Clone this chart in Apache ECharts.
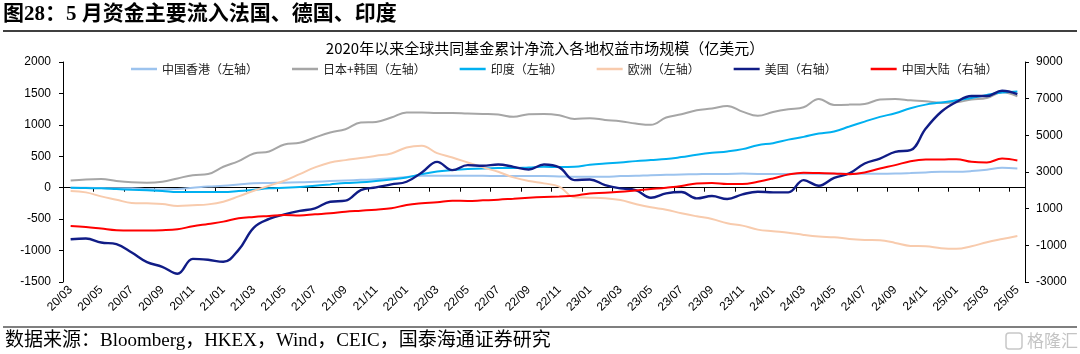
<!DOCTYPE html>
<html>
<head>
<meta charset="utf-8">
<script src="https://cdn.jsdelivr.net/npm/echarts@6/dist/echarts.min.js"></script>
<style>
html,body{margin:0;padding:0;background:#fff;}
#c{width:1080px;height:354px;}
</style>
</head>
<body>
<div id="c"></div>
<script>
const categories = ['20/03','20/04','20/05','20/06','20/07','20/08','20/09','20/10','20/11','20/12',
'21/01','21/02','21/03','21/04','21/05','21/06','21/07','21/08','21/09','21/10','21/11','21/12',
'22/01','22/02','22/03','22/04','22/05','22/06','22/07','22/08','22/09','22/10','22/11','22/12',
'23/01','23/02','23/03','23/04','23/05','23/06','23/07','23/08','23/09','23/10','23/11','23/12',
'24/01','24/02','24/03','24/04','24/05','24/06','24/07','24/08','24/09','24/10','24/11','24/12',
'25/01','25/02','25/03','25/04','25/05'];

const seriesNames = ['中国香港（左轴）','日本+韩国（左轴）','印度（左轴）','欧洲（左轴）','美国（右轴）','中国大陆（右轴）'];

const hongKong = [0,0,-5,-10,-10,-20,-30,-20,0,20,30,50,70,75,80,85,
 95,105,115,125,135,150,170,190,190,190,190,190,185,185,185,185,
 180,175,175,175,185,190,200,205,210,215,220,220,225,220,220,220,
 222,222,222,222,222,222,225,233,243,254,254,264,286,317,307];

const japanKorea = [116,132,138,106,85,79,95,148,200,217,333,423,545,577,688,714,
 800,878,931,1037,1047,1116,1196,1196,1190,1190,1180,1174,1164,1127,1169,1174,
 1153,1095,1106,1079,1058,1021,1000,1116,1169,1233,1259,1301,1211,1143,1206,1250,
 1280,1412,1317,1322,1333,1402,1412,1391,1375,1349,1359,1402,1428,1518,1455];

const india = [0,-5,-10,-21,-32,-42,-53,-69,-69,-69,-69,-53,-32,-10,0,10,
 32,53,74,85,106,132,164,217,259,280,296,307,312,312,323,333,
 328,333,365,386,402,423,439,455,487,524,555,577,614,677,709,765,
 809,862,894,973,1052,1127,1185,1264,1322,1354,1391,1428,1476,1513,1529];

const europe = [-53,-74,-138,-190,-243,-249,-259,-291,-280,-265,-222,-138,-48,32,111,217,
 323,402,439,471,508,545,640,667,550,481,402,323,254,164,106,69,
 16,-153,-159,-169,-196,-259,-312,-349,-407,-455,-497,-566,-603,-667,-693,-716,
 -751,-777,-788,-815,-830,-836,-878,-926,-931,-963,-973,-931,-867,-815,-767];

const usa = [-667,-631,-848,-939,-1392,-1917,-2171,-2552,-1736,-1790,-1899,-1247,-33,438,692,880,
 1018,1380,1435,2015,2160,2323,2468,2975,3555,3102,3374,3337,3410,3283,3138,3410,
 3250,2558,2595,2287,2105,2015,1598,1833,1906,1562,1689,1525,1779,1924,1888,1888,
 2558,2250,2685,2921,3464,3736,4099,4189,5367,6273,6817,7143,7143,7433,7251];

const chinaMainland = [58,3,-87,-178,-196,-196,-178,-123,40,166,293,474,547,601,656,630,
 692,746,837,891,946,1018,1199,1290,1344,1435,1417,1453,1489,1544,1598,1640,
 1670,1707,1833,1870,1924,1997,2069,2142,2232,2377,2395,2341,2341,2468,2649,2860,
 2957,2939,2921,2884,2975,3193,3374,3591,3682,3682,3700,3555,3519,3736,3627];

const seriesData = [hongKong, japanKorea, india, europe, usa, chinaMainland];
const seriesAxis = [0,0,0,0,1,1];
const colors = ['#9CC3EE','#A6A6A6','#00B0F0','#F8CBAD','#101C86','#FF0000'];
const widths = [2,2,2,2,2.4,2];

const chart = echarts.init(document.getElementById('c'), null, {renderer:'canvas'});
const axisFont = '"Liberation Sans", Arial, sans-serif';
const cjkFont = '"Noto Sans CJK SC", sans-serif';
const serifFont = '"Liberation Serif", "Noto Sans CJK SC", serif';

const option = {
  animation: false,
  backgroundColor: '#fff',
  color: colors,
  grid: {left: 63, right: 55, top: 62, bottom: 72, containLabel: false},
  legend: {
    left: 131, top: 63, padding: 0,
    icon: 'rect', itemWidth: 26, itemHeight: 2.5, itemGap: 34,
    textStyle: {fontSize: 12, color: '#222', fontFamily: cjkFont},
    data: seriesNames
  },
  xAxis: [
    {
      type: 'category', data: categories, boundaryGap: true, position: 'bottom',
      axisLine: {show: true, onZero: true, lineStyle: {color: '#000', width: 1}},
      axisTick: {show: true, interval: 1, length: 4, lineStyle: {color: '#000'}},
      axisLabel: {show: false},
      splitLine: {show: false}
    },
    {
      type: 'category', data: categories, boundaryGap: true, position: 'bottom',
      axisLine: {show: false, onZero: false},
      axisTick: {show: false},
      axisLabel: {show: true, interval: 1, rotate: 45, margin: 6, fontSize: 12, color: '#000', fontFamily: axisFont},
      splitLine: {show: false}
    }
  ],
  yAxis: [
    {
      type: 'value', min: -1500, max: 2000, interval: 500, position: 'left',
      axisLine: {show: true, lineStyle: {color: '#000', width: 1}},
      axisTick: {show: true, length: 4, lineStyle: {color: '#000'}},
      axisLabel: {fontSize: 12, color: '#000', fontFamily: axisFont, margin: 12, formatter: v => String(v)},
      splitLine: {show: false}
    },
    {
      type: 'value', min: -3000, max: 9000, interval: 2000, position: 'right',
      axisLine: {show: true, lineStyle: {color: '#000', width: 1}},
      axisTick: {show: true, length: 4, lineStyle: {color: '#000'}},
      axisLabel: {fontSize: 12, color: '#000', fontFamily: axisFont, margin: 11, formatter: v => String(v)},
      splitLine: {show: false}
    }
  ],
  series: seriesNames.map((n, i) => ({
    name: n, type: 'line', xAxisIndex: 0, yAxisIndex: seriesAxis[i],
    data: seriesData[i], smooth: 0.4, symbol: 'none', showSymbol: false,
    lineStyle: {color: colors[i], width: widths[i]},
    itemStyle: {color: colors[i]}
  })),
  graphic: [
    {type: 'text', left: 3, top: 4, style: {text: '图28：5 月资金主要流入法国、德国、印度', font: 'bold 21px ' + serifFont, fill: '#000'}},
    {type: 'line', shape: {x1: 3, y1: 31, x2: 1077, y2: 31}, style: {stroke: '#000', lineWidth: 1.5}},
    {type: 'text', x: 545, y: 48, style: {text: '2020年以来全球共同基金累计净流入各地权益市场规模（亿美元）', font: '15px ' + cjkFont, fill: '#000', align: 'center', verticalAlign: 'middle'}},
    {type: 'line', shape: {x1: 3, y1: 327, x2: 1077, y2: 327}, style: {stroke: '#000', lineWidth: 1.2}},
    {type: 'text', x: 5, y: 341, style: {text: '数据来源：Bloomberg，HKEX，Wind，CEIC，国泰海通证券研究', font: '19px ' + serifFont, fill: '#000', verticalAlign: 'middle'}},
    {type: 'rect', shape: {x: 1006, y: 333, width: 16, height: 16, r: 3}, style: {stroke: '#c8c8c8', fill: 'none', lineWidth: 1.5}},
    {type: 'text', x: 1027, y: 341, style: {text: '格隆汇', font: '17px ' + cjkFont, fill: '#c4c4c4', verticalAlign: 'middle'}}
  ]
};
chart.setOption(option);
</script>
</body>
</html>
